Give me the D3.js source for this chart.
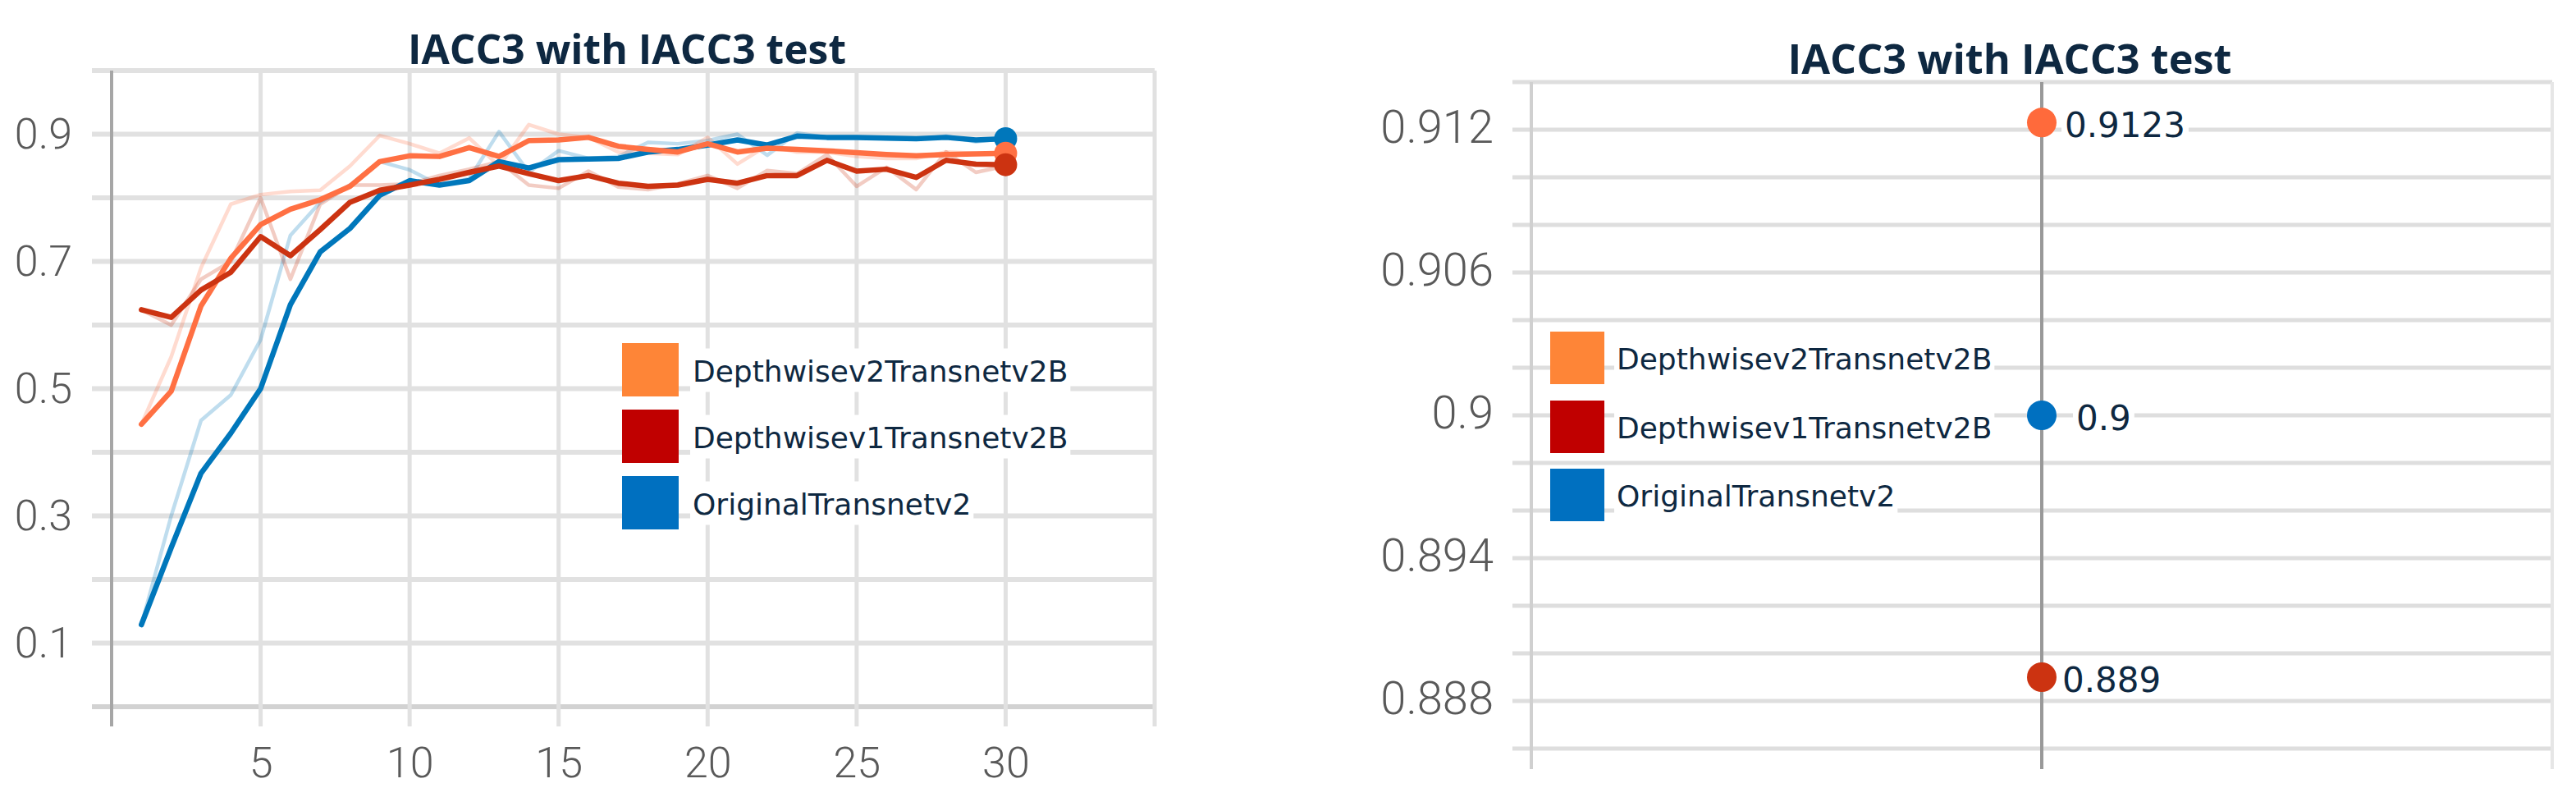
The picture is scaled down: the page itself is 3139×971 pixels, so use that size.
<!DOCTYPE html>
<html><head><meta charset="utf-8">
<script src="https://cdn.jsdelivr.net/npm/d3@7/dist/d3.min.js"></script>
<style>html,body{margin:0;padding:0;background:#fff}svg{display:block}</style>
</head><body>
<svg id="c" width="3139" height="971"></svg>
<script>
// ---------- DATA ----------
const titleText = "IACC3 with IACC3 test";
const seriesNames = ["Depthwisev2Transnetv2B", "Depthwisev1Transnetv2B", "OriginalTransnetv2"];
const epochs = [1,2,3,4,5,6,7,8,9,10,11,12,13,14,15,16,17,18,19,20,21,22,23,24,25,26,27,28,29,30];

// smoothed (bold) and raw (faint) curves, left chart
const v2Smooth = [0.444,0.496,0.63,0.705,0.758,0.782,0.797,0.818,0.857,0.866,0.865,0.879,0.865,0.89,0.891,0.895,0.881,0.876,0.872,0.885,0.872,0.878,0.876,0.874,0.871,0.868,0.866,0.868,0.869,0.87];
const v2Raw    = [0.444,0.55,0.69,0.79,0.805,0.81,0.812,0.85,0.898,0.885,0.87,0.894,0.85,0.915,0.9,0.895,0.872,0.87,0.868,0.895,0.853,0.882,0.872,0.872,0.865,0.862,0.862,0.872,0.87,0.87];
const v1Smooth = [0.624,0.612,0.655,0.683,0.739,0.709,0.75,0.793,0.812,0.82,0.829,0.84,0.85,0.838,0.827,0.835,0.823,0.818,0.82,0.829,0.823,0.835,0.835,0.859,0.842,0.845,0.832,0.859,0.853,0.852];
const v1Raw    = [0.624,0.60,0.672,0.70,0.80,0.672,0.79,0.82,0.82,0.822,0.835,0.845,0.857,0.82,0.815,0.842,0.817,0.813,0.822,0.835,0.815,0.843,0.838,0.868,0.818,0.848,0.813,0.872,0.84,0.85];
const origSmooth = [0.129,0.25,0.367,0.43,0.50,0.632,0.715,0.752,0.804,0.827,0.82,0.827,0.857,0.847,0.86,0.861,0.862,0.872,0.876,0.883,0.891,0.883,0.897,0.895,0.895,0.894,0.893,0.895,0.891,0.893];
const origRaw    = [0.129,0.30,0.45,0.49,0.577,0.741,0.793,0.82,0.857,0.844,0.82,0.83,0.904,0.84,0.874,0.862,0.865,0.887,0.885,0.89,0.9,0.867,0.902,0.895,0.895,0.893,0.892,0.897,0.888,0.894];

const leftYGrid = [0,0.1,0.2,0.3,0.4,0.5,0.6,0.7,0.8,0.9,1.0];
const leftYTickLabels = [0.1,0.3,0.5,0.7,0.9];
const leftXGrid = [5,10,15,20,25,30,35];
const leftXTickLabels = [5,10,15,20,25,30];

// right chart
const rightCategories = ["IACC3"];
const finalValues = [0.9123, 0.889, 0.9];
const finalLabels = ["0.9123", "0.889", "0.9"];
const rightYGrid = [0.886,0.888,0.89,0.892,0.894,0.896,0.898,0.9,0.902,0.904,0.906,0.908,0.91,0.912,0.914];
const rightYTickLabels = [0.888,0.894,0.9,0.906,0.912];

// ---------- STYLE ----------
const lineColors = ["#ff7043", "#cc3311", "#0077bb"];
const legendColors = ["#fe8537", "#c00000", "#0070c0"];
const dotColors = ["#ff6a3b", "#cc3311", "#0070c0"];
const textDark = "#0e2841";
const tickGray = "#595959";

const svg = d3.select("#c");

function title(cx, baseline, len) {
  const t = svg.append("text").attr("x", cx).attr("y", baseline)
    .attr("text-anchor", "middle")
    .attr("font-family", "'Open Sans', sans-serif").attr("font-weight", 700)
    .attr("font-size", 50).attr("fill", textDark).text(titleText);
  t.attr("textLength", len).attr("lengthAdjust", "spacingAndGlyphs");
}

// ================= LEFT CHART =================
const xL = d3.scaleLinear().domain([0, 35]).range([136, 1407]);
const yL = d3.scaleLinear().domain([0, 1]).range([861, 86]);

svg.append("g").selectAll("line").data(leftYGrid).join("line")
  .attr("x1", 112).attr("x2", xL(35))
  .attr("y1", d => yL(d)).attr("y2", d => yL(d))
  .attr("stroke", d => d === 0 ? "#d2d2d2" : "#e1e1e1").attr("stroke-width", 6);
svg.append("g").selectAll("line").data(leftXGrid).join("line")
  .attr("x1", d => xL(d)).attr("x2", d => xL(d))
  .attr("y1", yL(1)).attr("y2", 885)
  .attr("stroke", "#e1e1e1").attr("stroke-width", 5);
svg.append("line").attr("x1", xL(0)).attr("x2", xL(0)).attr("y1", yL(1)).attr("y2", 885)
  .attr("stroke", "#a6a6a6").attr("stroke-width", 4);

const yAxL = svg.append("g").attr("transform", "translate(88,0)")
  .call(d3.axisLeft(yL).tickValues(leftYTickLabels).tickSize(0).tickPadding(0).tickFormat(d3.format(".1f")));
const xAxL = svg.append("g").attr("transform", "translate(0,910)")
  .call(d3.axisBottom(xL).tickValues(leftXTickLabels).tickSize(0).tickPadding(0));
[yAxL, xAxL].forEach(g => {
  g.select(".domain").remove();
  g.selectAll("text").attr("font-family", "Roboto, sans-serif").attr("font-weight", 300)
    .attr("font-size", 52).attr("fill", tickGray);
});

const line = d3.line().x((d, i) => xL(epochs[i])).y(d => yL(d));
const raws = [v2Raw, v1Raw, origRaw];
const smooths = [v2Smooth, v1Smooth, origSmooth];
const gl = svg.append("g").attr("fill", "none").attr("stroke-linejoin", "round").attr("stroke-linecap", "round");
[2, 0, 1].forEach(i => {
  gl.append("path").attr("d", line(raws[i])).attr("stroke", lineColors[i])
    .attr("stroke-opacity", 0.25).attr("stroke-width", 4.5);
});
[2, 0, 1].forEach(i => {
  gl.append("path").attr("d", line(smooths[i])).attr("stroke", lineColors[i])
    .attr("stroke-width", 6.5);
});
[2, 0, 1].forEach(i => {
  const s = smooths[i];
  svg.append("circle").attr("cx", xL(epochs[epochs.length - 1])).attr("cy", yL(s[s.length - 1]))
    .attr("r", 14).attr("fill", lineColors[i]);
});

function legend(x0, tops, sqW, sqH, textX) {
  const g = svg.append("g");
  seriesNames.forEach((name, i) => {
    const cy = tops[i] + sqH / 2;
    const bg = g.append("rect").attr("fill", "#fff");
    const t = g.append("text").attr("x", textX).attr("y", cy + 14)
      .attr("font-family", "'DejaVu Sans', sans-serif").attr("font-size", 36)
      .attr("fill", textDark).text(name);
    const w = t.node().getComputedTextLength();
    bg.attr("x", textX - 3).attr("y", cy - 26).attr("width", w + 6).attr("height", 53);
    g.append("rect").attr("x", x0).attr("y", tops[i]).attr("width", sqW).attr("height", sqH)
      .attr("fill", legendColors[i]);
  });
}
legend(758, [418, 499, 580], 69, 65, 844);
title(764, 78, 534);

// ================= RIGHT CHART =================
const xR = d3.scalePoint().domain(rightCategories).range([1866, 3110]).padding(0.5);
const yR = d3.scaleLinear().domain([0.886, 0.914]).range([912, 100]);

svg.append("g").selectAll("line").data(rightYGrid).join("line")
  .attr("x1", 1843).attr("x2", 3110)
  .attr("y1", d => yR(d)).attr("y2", d => yR(d))
  .attr("stroke", "#dedede").attr("stroke-width", 5);
svg.append("line").attr("x1", 1866).attr("x2", 1866).attr("y1", yR(0.914)).attr("y2", 937)
  .attr("stroke", "#d0d0d0").attr("stroke-width", 4);
svg.append("line").attr("x1", 3110).attr("x2", 3110).attr("y1", yR(0.914)).attr("y2", 937)
  .attr("stroke", "#e6e6e6").attr("stroke-width", 4);
svg.append("line").attr("x1", xR(rightCategories[0])).attr("x2", xR(rightCategories[0]))
  .attr("y1", yR(0.914)).attr("y2", 937)
  .attr("stroke", "#999999").attr("stroke-width", 4);

const yAxR = svg.append("g").attr("transform", "translate(1820,-2)")
  .call(d3.axisLeft(yR).tickValues(rightYTickLabels).tickSize(0).tickPadding(0).tickFormat(d => String(+d.toFixed(3))));
yAxR.select(".domain").remove();
yAxR.selectAll("text").attr("font-family", "Roboto, sans-serif").attr("font-weight", 300)
  .attr("font-size", 56).attr("fill", tickGray);

legend(1889, [404, 488, 571], 66, 64, 1970);

const labelOffsets = [28, 25, 42];
finalValues.forEach((v, i) => {
  const cx = xR(rightCategories[0]);
  const cy = yR(v);
  const tx = cx + labelOffsets[i];
  const bg = svg.append("rect").attr("fill", "#fff");
  const t = svg.append("text").attr("x", tx).attr("y", cy + 18)
    .attr("font-family", "'DejaVu Sans', sans-serif").attr("font-size", 42)
    .attr("fill", textDark).text(finalLabels[i]);
  const w = t.node().getComputedTextLength();
  bg.attr("x", tx - 4).attr("y", cy - 20).attr("width", w + 8).attr("height", 46);
  svg.append("circle").attr("cx", cx).attr("cy", cy).attr("r", 18).attr("fill", dotColors[i]);
});
title(2449, 90, 541);
</script>
</body></html>
